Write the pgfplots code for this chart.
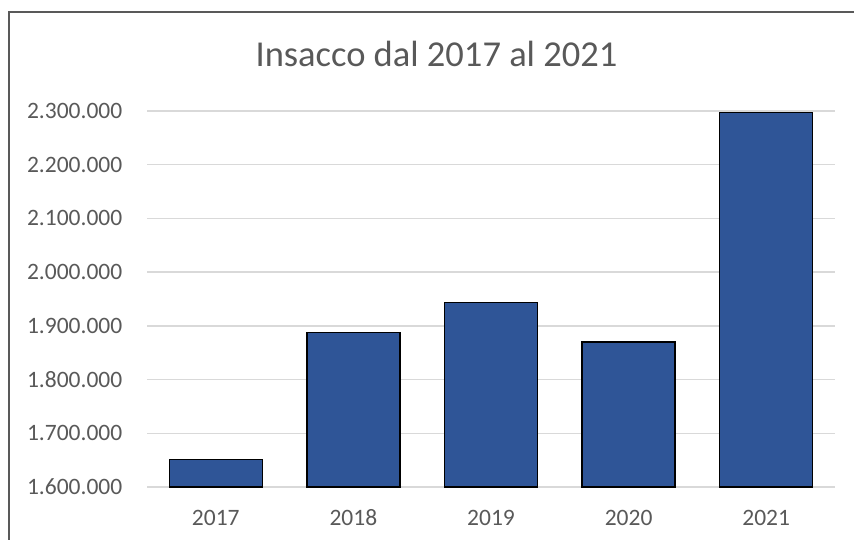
\documentclass[border=0pt]{standalone}
\usepackage{pgfplots}
\pgfplotsset{compat=1.18}
\usepackage{fontspec}
\setmainfont{Carlito}
\definecolor{txtgray}{HTML}{595959}
\definecolor{gridgray}{HTML}{D9D9D9}
\definecolor{barblue}{HTML}{2F5597}
\begin{document}
\begin{tikzpicture}
\useasboundingbox (0,0) rectangle (854bp,540bp);
\draw[color=txtgray, line width=1.2bp] (9bp,0) -- (9bp,528bp) -- (854bp,528bp);
\node[anchor=base, text=txtgray, font=\fontsize{36.5bp}{42bp}\selectfont, inner sep=0pt] at (436.5bp,473bp) {Insacco dal 2017 al 2021};
\begin{axis}[
  at={(147bp,53bp)}, anchor=south west,
  scale only axis, width=688bp, height=376bp,
  xmin=-0.5, xmax=4.5,
  ymin=1600000, ymax=2300000,
  ytick={1600000,1700000,1800000,1900000,2000000,2100000,2200000,2300000},
  xtick={0,1,2,3,4},
  xticklabels={2017,2018,2019,2020,2021},
  scaled y ticks=false,
  /pgf/number format/.cd, fixed, 1000 sep={.}, assume math mode=true,
  /pgfplots/.cd,
  major tick length=0pt,
  axis line style={draw=none},
  ymajorgrids,
  grid style={color=gridgray, line width=1.3bp},
  tick label style={text=txtgray, font=\fontsize{23.5bp}{28bp}\selectfont, inner sep=0pt},
  yticklabel style={anchor=east, xshift=-24.5bp},
  xticklabel style={anchor=base, yshift=-38bp},
  bar width=0.676,
  ybar,
  clip=false,
]
\addplot[fill=barblue, draw=black, line width=1.5bp] coordinates {
  (0,1651600) (1,1887700) (2,1943600) (3,1869600) (4,2297600)
};
\end{axis}
\end{tikzpicture}
\end{document}
